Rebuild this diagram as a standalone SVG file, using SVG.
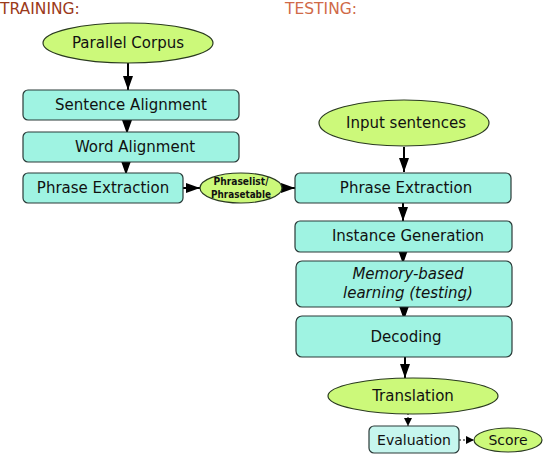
<svg xmlns="http://www.w3.org/2000/svg" width="544" height="455" viewBox="0 0 544 455">
<defs>
<style>
.box{fill:#9ff3e2;stroke:#2a3a38;stroke-width:1.2}
.box2{fill:#c6f6ee;stroke:#2a3a38;stroke-width:1.2}
.ell{fill:#ccf97a;stroke:#2a3a20;stroke-width:1.2}
.t{font-family:"DejaVu Sans",sans-serif;font-size:15px;fill:#111;text-anchor:middle}
.ts{font-family:"DejaVu Sans",sans-serif;font-size:10.5px;fill:#111;text-anchor:middle;font-weight:bold}
.tm{font-family:"DejaVu Sans",sans-serif;font-size:14px;fill:#111;text-anchor:middle}
.c{stroke:#000;stroke-width:2;fill:none}
.cd{stroke:#000;stroke-width:1;fill:none;stroke-dasharray:2,2}
</style>
<marker id="ah" viewBox="0 0 14 10" refX="14" refY="5" markerWidth="7" markerHeight="5" markerUnits="strokeWidth" orient="auto"><path d="M0,0 L14,5 L0,10 z" fill="#000"/></marker>
<marker id="ahs" viewBox="0 0 10 10" refX="10" refY="5" markerWidth="8" markerHeight="8" markerUnits="strokeWidth" orient="auto"><path d="M0,0 L10,5 L0,10 z" fill="#000"/></marker>
</defs>
<text x="0" y="14" font-family="DejaVu Sans,sans-serif" font-size="15.5" fill="#9b3a1a">TRAINING:</text>
<text x="285" y="14" font-family="DejaVu Sans,sans-serif" font-size="15.5" fill="#d06a48">TESTING:</text>
<g id="connectors">
<line class="c" x1="128" y1="63" x2="128" y2="90" marker-end="url(#ah)"/>
<line class="c" x1="127" y1="120" x2="127" y2="134" marker-end="url(#ah)"/>
<line class="c" x1="126" y1="162" x2="126" y2="175" marker-end="url(#ah)"/>
<line class="c" x1="183" y1="188" x2="200" y2="188" marker-end="url(#ah)"/>
<line class="c" x1="282" y1="188" x2="295" y2="188" marker-end="url(#ah)"/>
<line class="c" x1="404" y1="147" x2="404" y2="172" marker-end="url(#ah)"/>
<line class="c" x1="403" y1="203" x2="403" y2="221" marker-end="url(#ah)"/>
<line class="c" x1="403" y1="252" x2="403" y2="264" marker-end="url(#ah)"/>
<line class="c" x1="404" y1="307" x2="404" y2="320" marker-end="url(#ah)"/>
<line class="c" x1="405" y1="357" x2="405" y2="378" marker-end="url(#ah)"/>
<line class="cd" x1="408" y1="413" x2="408" y2="426" marker-end="url(#ahs)"/>
<line class="cd" x1="459" y1="440" x2="474" y2="440" marker-end="url(#ahs)"/>
</g>
<g id="parallel-corpus"><ellipse class="ell" cx="128" cy="43" rx="85" ry="20"/><text class="t" x="128" y="48">Parallel Corpus</text></g>
<g id="sentence-alignment"><rect class="box" x="23" y="90" width="216" height="30" rx="5"/><text class="t" x="131" y="110">Sentence Alignment</text></g>
<g id="word-alignment"><rect class="box" x="23" y="132" width="216" height="30" rx="5"/><text class="t" x="135" y="152">Word Alignment</text></g>
<g id="phrase-extraction-train"><rect class="box" x="23" y="173" width="160" height="30" rx="5"/><text class="t" x="103" y="193">Phrase Extraction</text></g>
<g id="phraselist"><ellipse class="ell" cx="241" cy="188" rx="41" ry="15"/><text class="ts" x="241" y="185" textLength="55" lengthAdjust="spacingAndGlyphs">Phraselist/</text><text class="ts" x="241" y="198" textLength="60" lengthAdjust="spacingAndGlyphs">Phrasetable</text></g>
<g id="input-sentences"><ellipse class="ell" cx="404" cy="123" rx="85" ry="23"/><text class="t" x="406" y="128">Input sentences</text></g>
<g id="phrase-extraction-test"><rect class="box" x="295" y="173" width="216" height="30" rx="5"/><text class="t" x="406" y="193">Phrase Extraction</text></g>
<g id="instance-generation"><rect class="box" x="295" y="221" width="217" height="31" rx="5"/><text class="t" x="408" y="241">Instance Generation</text></g>
<g id="memory-based"><rect class="box" x="296" y="261" width="216" height="46" rx="6"/><text class="t" x="408" y="279" font-style="italic" fill="#2a0a14">Memory-based</text><text class="t" x="408" y="298" font-style="italic" fill="#2a0a14">learning (testing)</text></g>
<g id="decoding"><rect class="box" x="296" y="316" width="216" height="41" rx="6"/><text class="t" x="406" y="342">Decoding</text></g>
<g id="translation"><ellipse class="ell" cx="413" cy="396" rx="85" ry="18"/><text class="t" x="413" y="401">Translation</text></g>
<g id="evaluation"><rect class="box2" x="369" y="426" width="90" height="27" rx="5"/><text class="tm" x="414" y="445">Evaluation</text></g>
<g id="score"><ellipse class="ell" cx="508" cy="440" rx="34" ry="12"/><text class="tm" x="508" y="445">Score</text></g>
</svg>
